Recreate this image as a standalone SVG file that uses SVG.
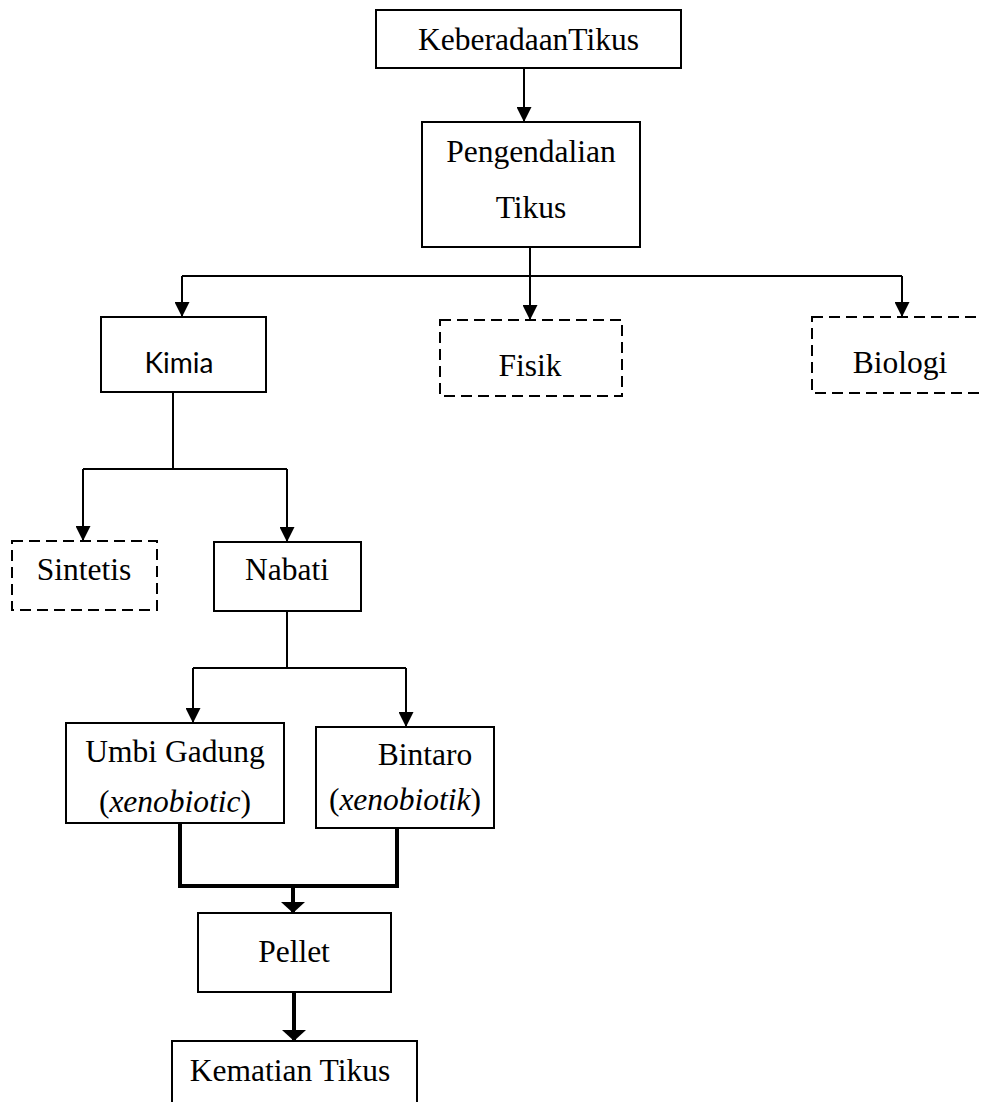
<svg xmlns="http://www.w3.org/2000/svg" width="982" height="1102" viewBox="0 0 982 1102">
<defs>
<style>
.box{fill:#fff;stroke:#000;stroke-width:2}
.dash{fill:#fff;stroke:#000;stroke-width:2;stroke-dasharray:11 6}
.t{font-family:"Liberation Serif","Times New Roman",serif;font-size:31.5px;fill:#000;text-anchor:middle}
.s{font-family:Lato,"Liberation Sans",sans-serif;font-size:28px;fill:#000;text-anchor:middle}
.ln{fill:none;stroke:#000;stroke-width:2}
.thick{fill:none;stroke:#000;stroke-width:4}
</style>
<marker id="arr" markerUnits="userSpaceOnUse" viewBox="0 0 15 15" markerWidth="15" markerHeight="15" refX="15" refY="7.5" orient="auto">
<path d="M0,0 L15,7.5 L0,15 z" fill="#000"/>
</marker>
<marker id="arrW" markerUnits="userSpaceOnUse" viewBox="0 0 11 24" markerWidth="11" markerHeight="24" refX="11" refY="12" orient="auto">
<path d="M0,0 L11,12 L0,24 z" fill="#000"/>
</marker>
</defs>
<rect width="982" height="1102" fill="#fff"/>
<g id="connectors">
<path class="ln" d="M524,68 V122" marker-end="url(#arr)"/>
<path class="ln" d="M530,247 V320" marker-end="url(#arr)"/>
<path class="ln" d="M182,276 H902"/>
<path class="ln" d="M182,276 V317" marker-end="url(#arr)"/>
<path class="ln" d="M902,276 V317" marker-end="url(#arr)"/>
<path class="ln" d="M173,392 V469"/>
<path class="ln" d="M83,469 H287"/>
<path class="ln" d="M83,469 V541" marker-end="url(#arr)"/>
<path class="ln" d="M287,469 V542" marker-end="url(#arr)"/>
<path class="ln" d="M287,611 V668"/>
<path class="ln" d="M193,668 H406"/>
<path class="ln" d="M193,668 V723" marker-end="url(#arr)"/>
<path class="ln" d="M406,668 V727" marker-end="url(#arr)"/>
<path class="thick" d="M180,823 V886 H397 V823"/>
<path class="thick" d="M293,886 V913" marker-end="url(#arrW)"/>
<path class="thick" d="M294,992 V1041" marker-end="url(#arrW)"/>
</g>
<g id="keberadaan"><rect class="box" x="376" y="10" width="305" height="58"/><text class="t" x="528.5" y="50">KeberadaanTikus</text></g>
<g id="pengendalian"><rect class="box" x="422" y="122" width="218" height="125"/><text class="t" x="531" y="162">Pengendalian</text><text class="t" x="531" y="218">Tikus</text></g>
<g id="kimia"><rect class="box" x="101" y="317" width="165" height="75"/><text class="s" x="179" y="373">Kimia</text></g>
<g id="fisik"><rect class="dash" x="440" y="320" width="182" height="76"/><text class="t" x="530" y="376">Fisik</text></g>
<g id="biologi"><rect class="dash" x="812" y="317" width="190" height="76"/><text class="t" x="900" y="373">Biologi</text></g>
<g id="sintetis"><rect class="dash" x="12" y="541" width="145" height="69"/><text class="t" x="84" y="580">Sintetis</text></g>
<g id="nabati"><rect class="box" x="214" y="542" width="147" height="69"/><text class="t" x="287" y="580">Nabati</text></g>
<g id="umbi"><rect class="box" x="66" y="723" width="218" height="100"/><text class="t" x="175" y="762">Umbi Gadung</text><text class="t" x="175" y="812">(<tspan font-style="italic">xenobiotic</tspan>)</text></g>
<g id="bintaro"><rect class="box" x="316" y="727" width="178" height="101"/><text class="t" x="425" y="765">Bintaro</text><text class="t" x="405" y="810">(<tspan font-style="italic">xenobiotik</tspan>)</text></g>
<g id="pellet"><rect class="box" x="198" y="913" width="193" height="79"/><text class="t" x="294" y="962">Pellet</text></g>
<g id="kematian"><rect class="box" x="172" y="1041" width="245" height="80"/><text class="t" x="290" y="1081">Kematian Tikus</text></g>
</svg>
